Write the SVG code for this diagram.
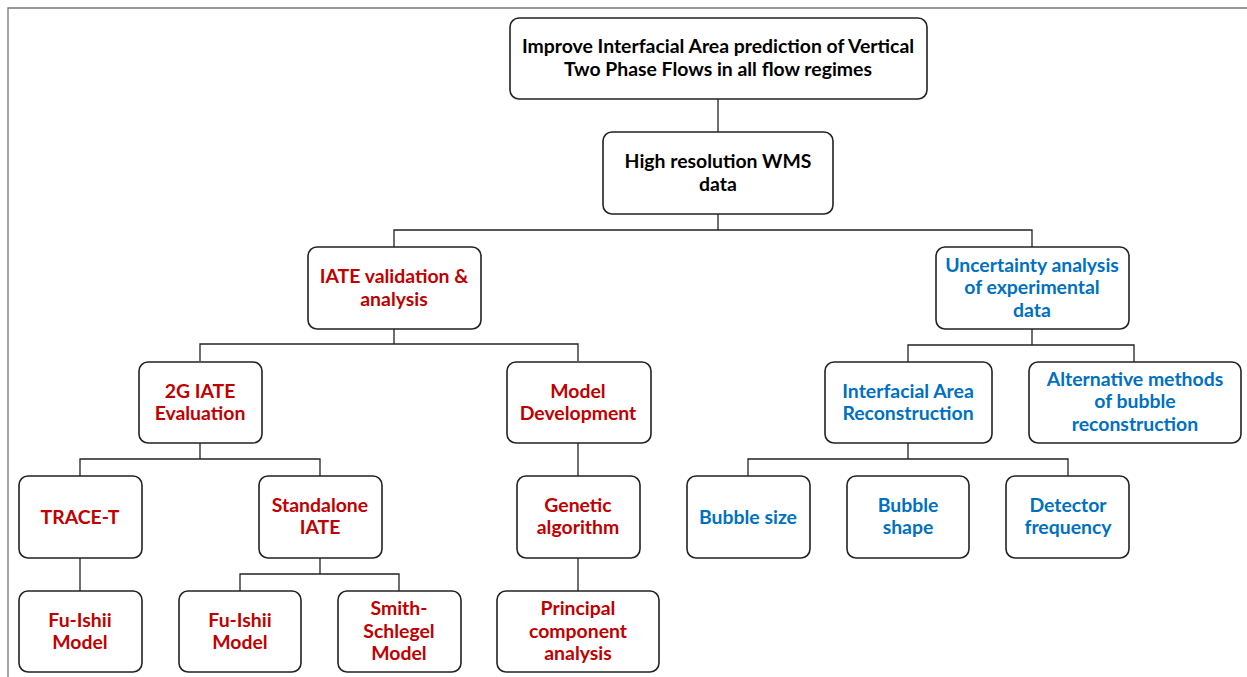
<svg xmlns="http://www.w3.org/2000/svg" width="1247" height="677" viewBox="0 0 1247 677">
<style>
.n{fill:#fff;stroke:#222;stroke-width:1.6}
text{font-family:Lato,"Open Sans","Liberation Sans",sans-serif;font-weight:bold;font-size:19.4px;text-anchor:middle}
.k{fill:#000}.r{fill:#C00000}.b{fill:#0070C0}
.c{fill:none;stroke:#222;stroke-width:1.3}
</style>
<rect width="1247" height="677" fill="#fff"/>
<path d="M8 677V8H1247" fill="none" stroke="#777" stroke-width="1.3"/>
<g id="connectors" class="c">
<path d="M718 99V132"/>
<path d="M718 214V230M394 247V230H1032V247"/>
<path d="M394 329V344M200 361V344H578V361"/>
<path d="M1032 329V345M908 362V345H1134V362"/>
<path d="M200 443V459M80 476V459H320V476"/>
<path d="M578 443V476"/>
<path d="M908 443V459M748 476V459H1068V476"/>
<path d="M80 558V591"/>
<path d="M320 558V574M240 591V574H399V591"/>
<path d="M578 558V591"/>
</g>
<g id="n1"><rect class="n" x="510" y="18" width="417" height="81" rx="9"/><text class="k" x="718" y="53">Improve Interfacial Area prediction of Vertical</text><text class="k" x="718" y="76">Two Phase Flows in all flow regimes</text></g>
<g id="n2"><rect class="n" x="603" y="132" width="230" height="82" rx="9"/><text class="k" x="718" y="168">High resolution WMS</text><text class="k" x="718" y="191">data</text></g>
<g id="n3"><rect class="n" x="308" y="247" width="173" height="82" rx="9"/><text class="r" x="394" y="283">IATE validation &amp;</text><text class="r" x="394" y="306">analysis</text></g>
<g id="n4"><rect class="n" x="936" y="247" width="193" height="82" rx="9"/><text class="b" x="1032" y="272">Uncertainty analysis</text><text class="b" x="1032" y="294">of experimental</text><text class="b" x="1032" y="317">data</text></g>
<g id="n5"><rect class="n" x="139" y="362" width="123" height="81" rx="9"/><text class="r" x="200" y="398">2G IATE</text><text class="r" x="200" y="420">Evaluation</text></g>
<g id="n6"><rect class="n" x="507" y="362" width="144" height="81" rx="9"/><text class="r" x="578" y="398">Model</text><text class="r" x="578" y="420">Development</text></g>
<g id="n7"><rect class="n" x="825" y="362" width="167" height="81" rx="9"/><text class="b" x="908" y="398">Interfacial Area</text><text class="b" x="908" y="420">Reconstruction</text></g>
<g id="n8"><rect class="n" x="1029" y="362" width="212" height="81" rx="9"/><text class="b" x="1135" y="386">Alternative methods</text><text class="b" x="1135" y="408">of bubble</text><text class="b" x="1135" y="431">reconstruction</text></g>
<g id="n9"><rect class="n" x="19" y="476" width="123" height="82" rx="9"/><text class="r" x="80" y="524">TRACE-T</text></g>
<g id="n10"><rect class="n" x="259" y="476" width="123" height="82" rx="9"/><text class="r" x="320" y="512">Standalone</text><text class="r" x="320" y="534">IATE</text></g>
<g id="n11"><rect class="n" x="517" y="476" width="123" height="82" rx="9"/><text class="r" x="578" y="512">Genetic</text><text class="r" x="578" y="534">algorithm</text></g>
<g id="n12"><rect class="n" x="687" y="476" width="123" height="82" rx="9"/><text class="b" x="748" y="524">Bubble size</text></g>
<g id="n13"><rect class="n" x="847" y="476" width="122" height="82" rx="9"/><text class="b" x="908" y="512">Bubble</text><text class="b" x="908" y="534">shape</text></g>
<g id="n14"><rect class="n" x="1006" y="476" width="123" height="82" rx="9"/><text class="b" x="1068" y="512">Detector</text><text class="b" x="1068" y="534">frequency</text></g>
<g id="n15"><rect class="n" x="19" y="591" width="123" height="81" rx="9"/><text class="r" x="80" y="627">Fu-Ishii</text><text class="r" x="80" y="649">Model</text></g>
<g id="n16"><rect class="n" x="179" y="591" width="122" height="81" rx="9"/><text class="r" x="240" y="627">Fu-Ishii</text><text class="r" x="240" y="649">Model</text></g>
<g id="n17"><rect class="n" x="338" y="591" width="123" height="81" rx="9"/><text class="r" x="399" y="615">Smith-</text><text class="r" x="399" y="638">Schlegel</text><text class="r" x="399" y="660">Model</text></g>
<g id="n18"><rect class="n" x="497" y="591" width="162" height="81" rx="9"/><text class="r" x="578" y="615">Principal</text><text class="r" x="578" y="638">component</text><text class="r" x="578" y="660">analysis</text></g>
</svg>
